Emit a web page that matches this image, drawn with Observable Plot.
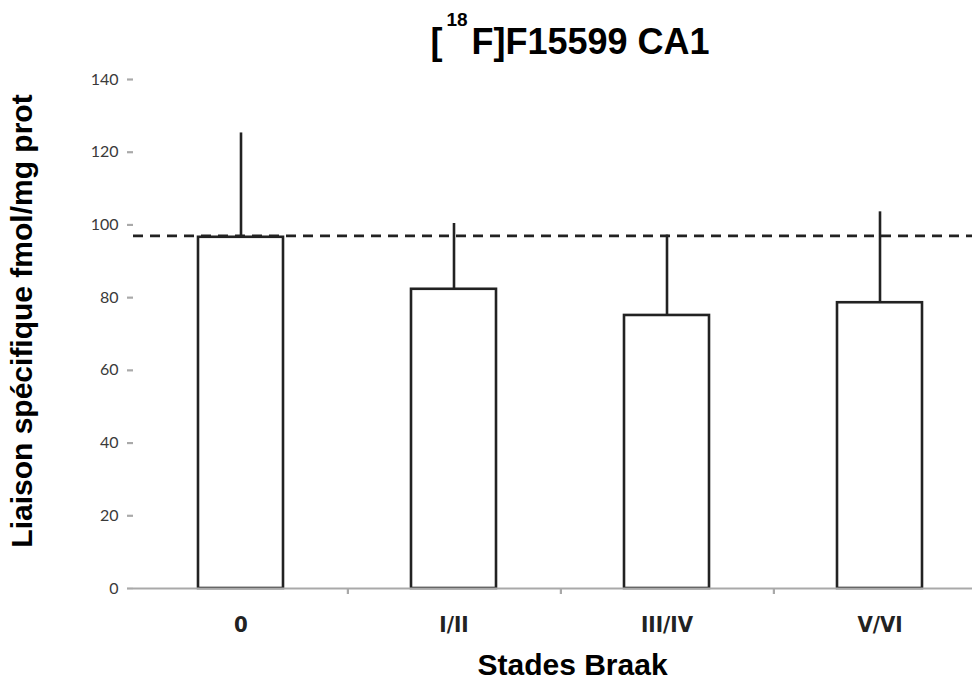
<!DOCTYPE html>
<html>
<head>
<meta charset="utf-8">
<script src="https://cdn.jsdelivr.net/npm/d3@7"></script>
<script src="https://cdn.jsdelivr.net/npm/@observablehq/plot@0.6"></script>
<style>
  html, body { margin: 0; padding: 0; background: #fff; overflow: hidden; }
  #wrap { position: relative; width: 972px; height: 685px; }
  #title { position: relative; height: 65px; width: 972px; }
  #title .t { position: absolute; left: 168px; right: 0; top: 24px; text-align: center;
    font-family: "Liberation Sans", Arial, sans-serif; font-weight: bold; font-size: 36px; line-height: 1; color: #000; white-space: nowrap; }
  #title .t sup { position: relative; top: -28px; vertical-align: baseline; font-size: 19px; margin: 0 4px 0 4px; }
  #ylab { position: absolute; left: 22px; top: 321px; transform: translate(-50%, -50%) rotate(-90deg);
    font-family: "Liberation Sans", Arial, sans-serif; font-weight: bold; font-size: 30px; line-height: 1; white-space: nowrap; color: #000; }
</style>
</head>
<body>
<div id="wrap">
<div id="title"><div class="t">[<sup>18</sup>F]F15599 CA1</div></div>
<div id="chart"></div>
<div id="ylab"></div>
</div>
<script>
const categories = ["0", "I/II", "III/IV", "V/VI"];
const means = [96.6, 82.3, 75.1, 78.6];
const upperErrors = [125.3, 100.4, 97.2, 103.6];
const referenceLevel = [97];
const yTicks = [0, 20, 40, 60, 80, 100, 120, 140];
const yTitle = "Liaison spécifique fmol/mg prot";
const xTitle = "Stades Braak";

const data = categories.map((c, i) => ({cat: c, mean: means[i], upper: upperErrors[i]}));

const W = 972, H = 620;
const left = 133, rightEnd = 988;
const step = (rightEnd - left) / categories.length;
const axisGray = "#a9a9a9";
const ink = "#222";

document.getElementById("ylab").textContent = yTitle;

const chart = Plot.plot({
  width: W,
  height: H,
  marginLeft: left,
  marginRight: 0,
  marginTop: 14,
  marginBottom: 97,
  style: {background: "white", overflow: "visible"},
  x: {domain: categories, range: [left, rightEnd], paddingInner: 0.6, paddingOuter: 0.3, axis: null},
  y: {domain: [0, 140], axis: null},
  marks: [
    Plot.barY(data, {x: "cat", y: "mean", fill: "white", stroke: ink, strokeWidth: 2.6}),
    Plot.ruleX(data, {x: "cat", y1: "mean", y2: "upper", stroke: ink, strokeWidth: 2.6}),
    Plot.ruleY(referenceLevel, {stroke: ink, strokeWidth: 2.6, strokeDasharray: "10,7"}),
    Plot.ruleY([0], {stroke: axisGray, strokeWidth: 2.2}),
    Plot.axisY({ticks: yTicks, tickSize: 6, tickPadding: 9, line: true, stroke: axisGray, strokeWidth: 2.2,
      fill: "#3a3a3a", fontSize: 16, fontFamily: "Lato, 'Open Sans', sans-serif", label: null}),
    Plot.axisX({ticks: categories.slice(0, 3), tickSize: 6, dx: step / 2, stroke: axisGray, strokeWidth: 2.2,
      tickFormat: () => "", label: null}),
    Plot.axisX({tickSize: 0, tickPadding: 28, fontSize: 22, fontWeight: "bold", fill: "#222",
      fontFamily: "'Liberation Sans Narrow', 'DejaVu Sans Condensed', sans-serif", label: null}),
    Plot.text([xTitle], {frameAnchor: "bottom", dx: 19.5, dy: 86, fontSize: 30, fontWeight: "bold",
      fontFamily: "'Liberation Sans', Arial, sans-serif", fill: "#000"})
  ]
});
document.getElementById("chart").appendChild(chart);
</script>
</body>
</html>
